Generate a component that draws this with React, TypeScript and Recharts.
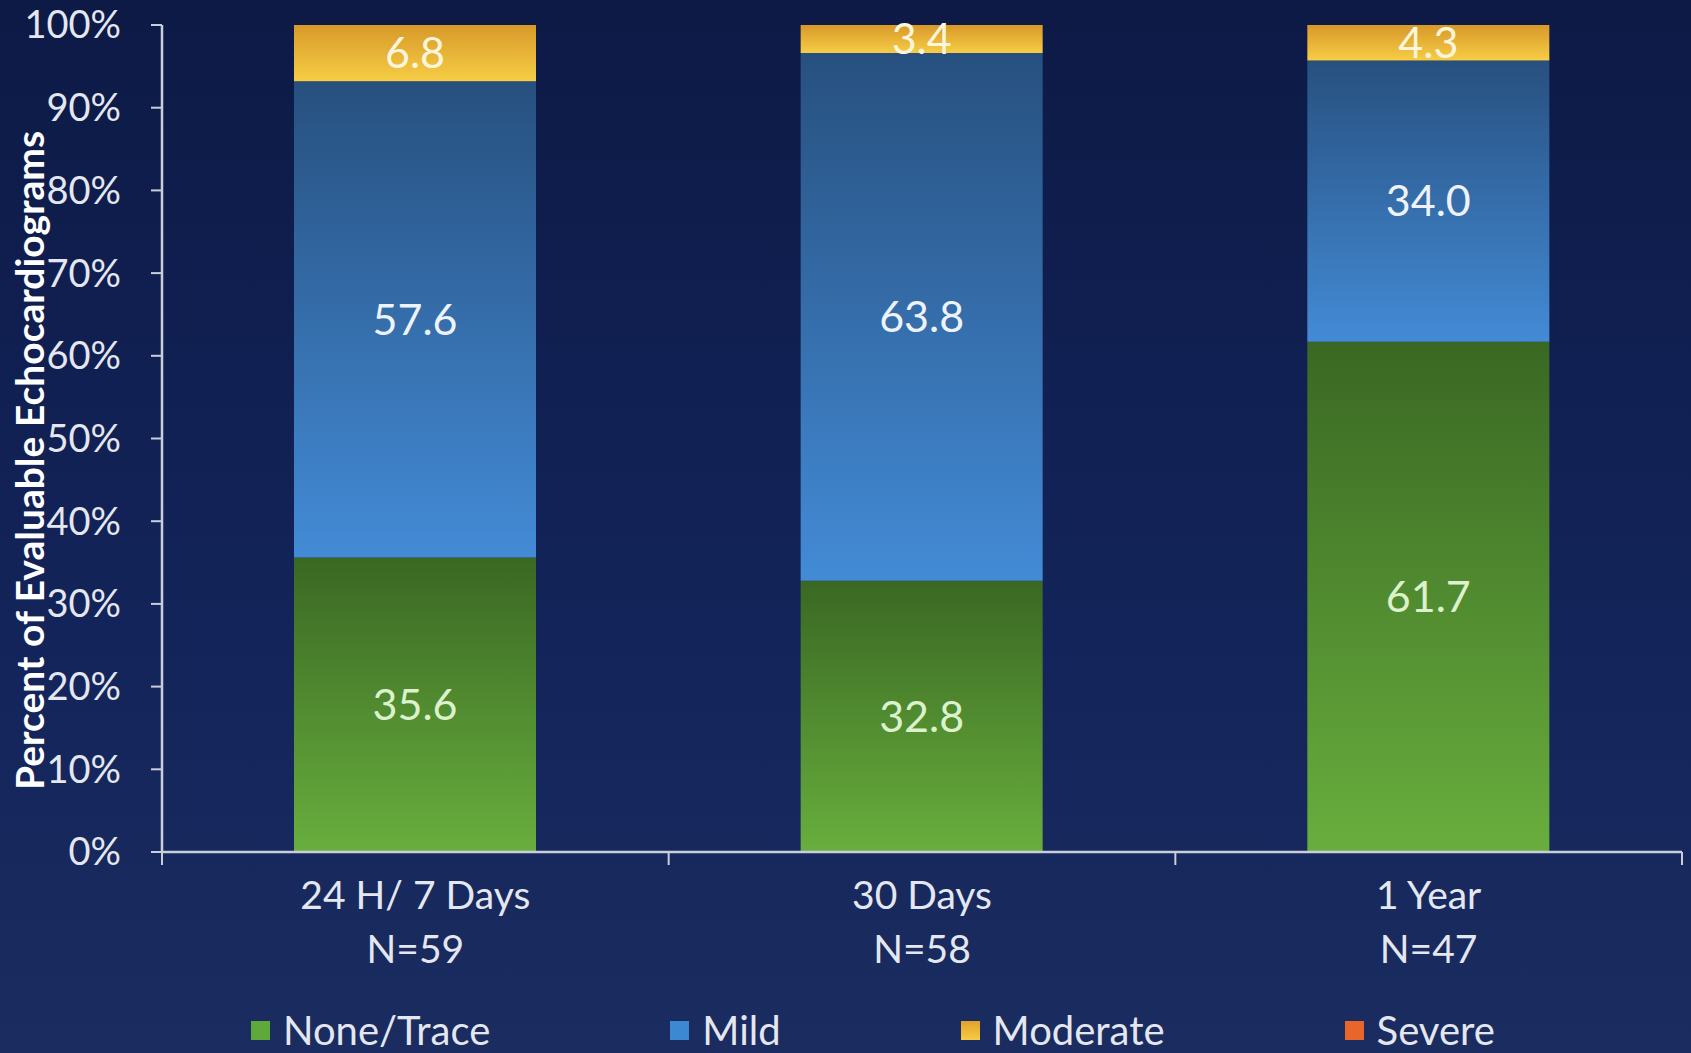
import React from "react"
import { BarChart, Bar, XAxis, YAxis, Legend, LabelList } from "recharts"

const categories = ["24 H/ 7 Days", "30 Days", "1 Year"]
const sampleSizes = [59, 58, 47]
const noneTrace = [35.6, 32.8, 61.7]
const mild = [57.6, 63.8, 34.0]
const moderate = [6.8, 3.4, 4.3]
const severe = [0, 0, 0]
const yTicks = [0, 10, 20, 30, 40, 50, 60, 70, 80, 90, 100]

const data = categories.map((name, i) => ({
  name,
  n: sampleSizes[i],
  none: noneTrace[i],
  mild: mild[i],
  moderate: moderate[i],
  severe: severe[i],
}))

const legendItems = [
  { label: "None/Trace", swatch: "#5fa83a" },
  { label: "Mild", swatch: "#3d88d2" },
  { label: "Moderate", swatch: "linear-gradient(#e0a22c, #f6cc44)" },
  { label: "Severe", swatch: "#e8662a" },
]

const FONT = "Lato, 'Open Sans', sans-serif"
const AXIS = "#c9cedb"
const TEXT = "#e4e7ef"

const CHART_W = 1691
const CHART_H = 1053
const MARGIN = { top: 25, right: 9, left: 62, bottom: 0 }
const Y_AXIS_W = 100
// width of one category band, used for the boundary tick marks under the axis
const BAND = (CHART_W - MARGIN.left - Y_AXIS_W - MARGIN.right) / categories.length

function CategoryTick({ x, y, index }: any) {
  const half = BAND / 2
  return (
    <g>
      {index === 0 && <line x1={x - half} x2={x - half} y1={y} y2={y + 13} stroke={AXIS} strokeWidth={2} />}
      <line x1={x + half} x2={x + half} y1={y} y2={y + 13} stroke={AXIS} strokeWidth={2} />
      <text x={x} textAnchor="middle" fill={TEXT} fontSize={39} fontFamily={FONT}>
        <tspan x={x} y={y + 57}>{categories[index]}</tspan>
        <tspan x={x} y={y + 111}>{`N=${sampleSizes[index]}`}</tspan>
      </text>
    </g>
  )
}

function YTitle({ viewBox }: any) {
  const cx = viewBox.x - 33
  const cy = viewBox.y + viewBox.height / 2 + 22
  return (
    <text
      x={cx}
      y={cy}
      transform={`rotate(-90, ${cx}, ${cy})`}
      textAnchor="middle"
      dominantBaseline="central"
      fill="#ffffff"
      fontSize={39}
      fontWeight={700}
      fontFamily={FONT}
    >
      Percent of Evaluable Echocardiograms
    </text>
  )
}

function LegendRow() {
  return (
    <div
      style={{
        display: "flex",
        alignItems: "center",
        height: 46,
        paddingLeft: 251,
        fontFamily: FONT,
        fontSize: 40,
        color: TEXT,
        lineHeight: "46px",
      }}
    >
      {legendItems.map((item) => (
        <div key={item.label} style={{ display: "flex", alignItems: "center", marginRight: 180 }}>
          <span style={{ width: 19, height: 19, background: item.swatch, marginRight: 13, display: "inline-block" }} />
          <span>{item.label}</span>
        </div>
      ))}
    </div>
  )
}

export default function App() {
  return (
    <div
      style={{
        position: "absolute",
        top: 0,
        left: 0,
        width: CHART_W,
        height: CHART_H,
        background: "linear-gradient(180deg, #0d1a46 0%, #13245a 60%, #1a2c60 100%)",
        fontFamily: FONT,
      }}
    >
      <BarChart width={CHART_W} height={CHART_H} data={data} margin={MARGIN} barSize={242}>
        <defs>
          <linearGradient id="gNone" x1="0" y1="0" x2="0" y2="1">
            <stop offset="0%" stopColor="#3a6823" />
            <stop offset="100%" stopColor="#68ae3d" />
          </linearGradient>
          <linearGradient id="gMild" x1="0" y1="0" x2="0" y2="1">
            <stop offset="0%" stopColor="#27507f" />
            <stop offset="100%" stopColor="#438bd6" />
          </linearGradient>
          <linearGradient id="gModerate" x1="0" y1="0" x2="0" y2="1">
            <stop offset="0%" stopColor="#d8992a" />
            <stop offset="100%" stopColor="#f6cd45" />
          </linearGradient>
          <linearGradient id="gSevere" x1="0" y1="0" x2="0" y2="1">
            <stop offset="0%" stopColor="#c9501e" />
            <stop offset="100%" stopColor="#ee6e2e" />
          </linearGradient>
        </defs>

        <XAxis
          dataKey="name"
          height={155}
          axisLine={{ stroke: AXIS, strokeWidth: 2.5 }}
          tickLine={false}
          tickSize={0}
          tickMargin={0}
          interval={0}
          tick={<CategoryTick />}
        />
        <YAxis
          domain={[0, 100]}
          ticks={yTicks}
          width={Y_AXIS_W}
          tickSize={11}
          tickMargin={30}
          tickFormatter={(v) => `${v}%`}
          axisLine={{ stroke: AXIS, strokeWidth: 2.5 }}
          tickLine={{ stroke: AXIS, strokeWidth: 2 }}
          tick={{ fill: TEXT, fontSize: 38, fontFamily: FONT }}
          label={<YTitle />}
        />
        <Legend verticalAlign="bottom" wrapperStyle={{ left: 0, width: CHART_W }} content={() => <LegendRow />} />

        <Bar dataKey="none" stackId="s" fill="url(#gNone)" isAnimationActive={false}>
          <LabelList dataKey="none" position="center" fill="#dcf2cc" fontSize={43} fontFamily={FONT} formatter={(v: any) => Number(v).toFixed(1)} />
        </Bar>
        <Bar dataKey="mild" stackId="s" fill="url(#gMild)" isAnimationActive={false}>
          <LabelList dataKey="mild" position="center" fill="#eef3fb" fontSize={43} fontFamily={FONT} formatter={(v: any) => Number(v).toFixed(1)} />
        </Bar>
        <Bar dataKey="moderate" stackId="s" fill="url(#gModerate)" isAnimationActive={false}>
          <LabelList dataKey="moderate" position="center" fill="#fdf6dc" fontSize={43} fontFamily={FONT} formatter={(v: any) => Number(v).toFixed(1)} />
        </Bar>
        <Bar dataKey="severe" stackId="s" fill="url(#gSevere)" isAnimationActive={false} />
      </BarChart>
    </div>
  )
}
